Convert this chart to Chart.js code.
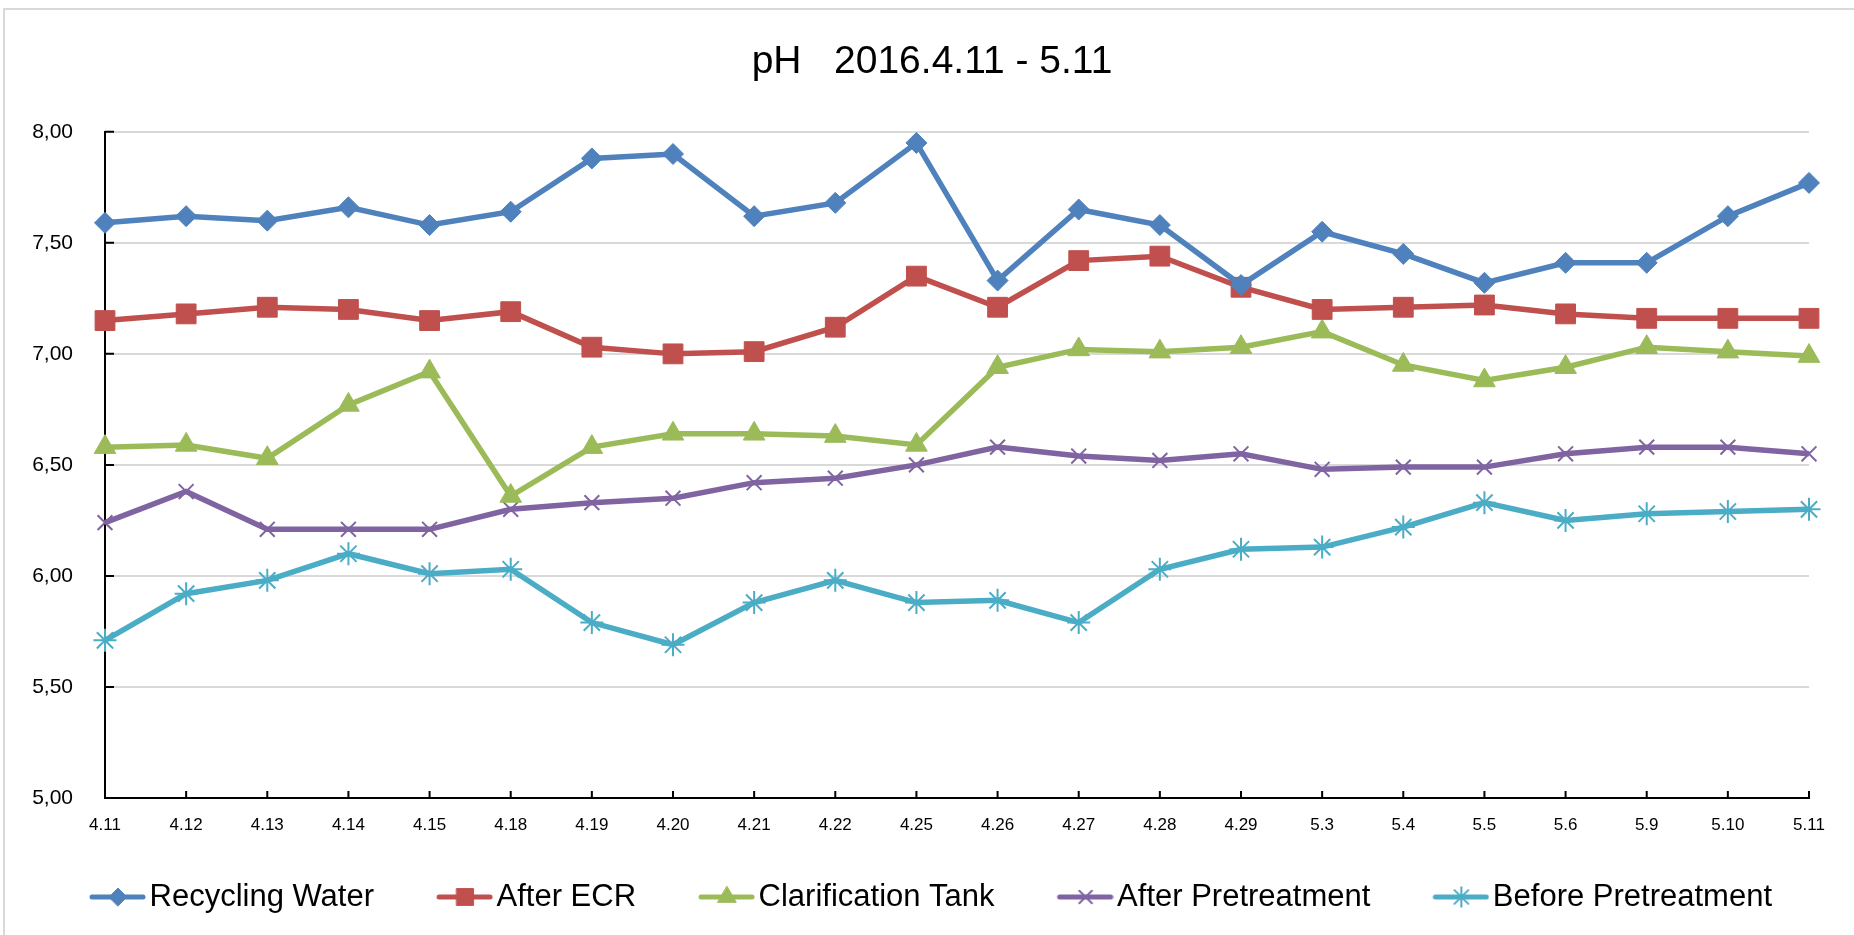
<!DOCTYPE html>
<html>
<head>
<meta charset="utf-8">
<script src="https://cdn.jsdelivr.net/npm/chart.js@4.4.0/dist/chart.umd.min.js"></script>
<style>
    html, body { margin: 0; padding: 0; background: #fff; }
    #wrap { position: relative; width: 1854px; height: 935px; overflow: hidden; }
    #frame { position: absolute; left: 3px; top: 8px; width: 1900px; height: 1000px; border: 2px solid #d9d9d9; box-sizing: border-box; }
    #chart { position: absolute; left: 0; top: 0; }
</style>
</head>
<body>
<div id="wrap">
    <div id="frame"></div>
    <canvas id="chart" width="1854" height="935"></canvas>
</div>
<script>
const dates = ["4.11", "4.12", "4.13", "4.14", "4.15", "4.18", "4.19", "4.20", "4.21", "4.22", "4.25",
    "4.26", "4.27", "4.28", "4.29", "5.3", "5.4", "5.5", "5.6", "5.9", "5.10", "5.11"];

const recyclingWater = [7.59, 7.62, 7.60, 7.66, 7.58, 7.64, 7.88, 7.90, 7.62, 7.68, 7.95,
    7.33, 7.65, 7.58, 7.31, 7.55, 7.45, 7.32, 7.41, 7.41, 7.62, 7.77];
const afterEcr = [7.15, 7.18, 7.21, 7.20, 7.15, 7.19, 7.03, 7.00, 7.01, 7.12, 7.35,
    7.21, 7.42, 7.44, 7.30, 7.20, 7.21, 7.22, 7.18, 7.16, 7.16, 7.16];
const clarificationTank = [6.58, 6.59, 6.53, 6.77, 6.92, 6.36, 6.58, 6.64, 6.64, 6.63, 6.59,
    6.94, 7.02, 7.01, 7.03, 7.10, 6.95, 6.88, 6.94, 7.03, 7.01, 6.99];
const afterPretreatment = [6.24, 6.38, 6.21, 6.21, 6.21, 6.30, 6.33, 6.35, 6.42, 6.44, 6.50,
    6.58, 6.54, 6.52, 6.55, 6.48, 6.49, 6.49, 6.55, 6.58, 6.58, 6.55];
const beforePretreatment = [5.71, 5.92, 5.98, 6.10, 6.01, 6.03, 5.79, 5.69, 5.88, 5.98, 5.88,
    5.89, 5.79, 6.03, 6.12, 6.13, 6.22, 6.33, 6.25, 6.28, 6.29, 6.30];

const seriesNames = ["Recycling Water", "After ECR", "Clarification Tank", "After Pretreatment", "Before Pretreatment"];
const yMin = 5, yMax = 8, yStep = 0.5;

const FONT = '"Liberation Sans", Arial, sans-serif';

const styles = [
    { color: "#4F81BD", point: "rectRot", radius: 10.5, bw: 1 },
    { color: "#C0504D", point: "rect", radius: 14, bw: 1 },
    { color: "#9BBB59", point: "triangle", radius: 12.5, bw: 1 },
    { color: "#8064A2", point: "crossRot", radius: 10.5, bw: 2 },
    { color: "#4BACC6", point: "star", radius: 11.5, bw: 2 }
];
const seriesData = [recyclingWater, afterEcr, clarificationTank, afterPretreatment, beforePretreatment];

// legend icons: line with marker, drawn a bit wider than the box so the gap to the text stays small
const BOX_W = 97;
const ICON_W = BOX_W + 24;
function legendIcon(st) {
    const c = document.createElement("canvas");
    c.width = ICON_W;
    c.height = 30;
    const ctx = c.getContext("2d");
    ctx.strokeStyle = st.color;
    ctx.fillStyle = st.color;
    ctx.lineWidth = 5;
    ctx.lineCap = "round";
    ctx.beginPath();
    ctx.moveTo(ICON_W - 54, 15);
    ctx.lineTo(ICON_W - 3, 15);
    ctx.stroke();
    ctx.lineWidth = st.bw;
    Chart.helpers.drawPoint(ctx, { pointStyle: st.point, radius: st.radius * 0.85, borderWidth: st.bw, rotation: 0 }, ICON_W - 28, 15);
    return c;
}

const insideTicks = {
    id: "insideTicks",
    beforeDatasetsDraw(chart) {
        const { ctx, chartArea, scales: { x, y } } = chart;
        ctx.save();
        ctx.strokeStyle = "#000";
        ctx.lineWidth = 2;
        ctx.beginPath();
        y.ticks.forEach((t, i) => {
            const py = y.getPixelForTick(i);
            ctx.moveTo(chartArea.left, py);
            ctx.lineTo(chartArea.left + 9, py);
        });
        x.ticks.forEach((t, i) => {
            const px = x.getPixelForTick(i);
            ctx.moveTo(px, chartArea.bottom);
            ctx.lineTo(px, chartArea.bottom - 7);
        });
        ctx.stroke();
        ctx.restore();
    }
};

// the title sits a little right of the plot centre in the original
const titleShift = {
    id: "titleShift",
    afterLayout(chart) {
        if (chart.titleBlock) chart.titleBlock.left += 55;
    }
};

const icons = styles.map(legendIcon);

new Chart(document.getElementById("chart"), {
    type: "line",
    data: {
        labels: dates,
        datasets: seriesNames.map((name, i) => ({
            label: name,
            data: seriesData[i],
            borderColor: styles[i].color,
            backgroundColor: styles[i].color,
            borderWidth: 5.5,
            tension: 0,
            fill: false,
            pointStyle: styles[i].point,
            pointRadius: styles[i].radius,
            pointBorderWidth: styles[i].bw,
            pointBackgroundColor: styles[i].color,
            pointBorderColor: styles[i].color
        }))
    },
    options: {
        responsive: false,
        animation: false,
        layout: { padding: { left: 0, right: 45, top: 0, bottom: 12.5 } },
        plugins: {
            title: {
                display: true,
                text: "pH   2016.4.11 - 5.11",
                color: "#000",
                font: { family: FONT, size: 39, weight: "normal" },
                padding: { top: 39, bottom: 46 }
            },
            legend: {
                position: "bottom",
                labels: {
                    color: "#000",
                    font: { family: FONT, size: 31 },
                    usePointStyle: true,
                    pointStyleWidth: BOX_W,
                    padding: 10,
                    generateLabels: chart => seriesNames.map((name, i) => ({
                        text: name,
                        pointStyle: icons[i],
                        fillStyle: styles[i].color,
                        strokeStyle: styles[i].color,
                        lineWidth: 0,
                        datasetIndex: i,
                        hidden: false
                    }))
                }
            },
            tooltip: { enabled: false }
        },
        scales: {
            x: {
                offset: false,
                grid: { display: false, drawTicks: false },
                border: { display: true, color: "#000", width: 2 },
                ticks: { color: "#000", font: { family: FONT, size: 17 }, padding: 17, maxRotation: 0, autoSkip: false },
                afterFit: scale => { scale.height = 73.5; }
            },
            y: {
                min: yMin,
                max: yMax,
                grid: { color: "#d9d9d9", lineWidth: 2, drawTicks: false },
                border: { display: true, color: "#000", width: 2 },
                ticks: {
                    stepSize: yStep,
                    color: "#000",
                    font: { family: FONT, size: 21 },
                    padding: 32,
                    callback: v => v.toFixed(2).replace(".", ",")
                },
                afterFit: scale => { scale.width = 105; }
            }
        }
    },
    plugins: [insideTicks, titleShift]
});
</script>
</body>
</html>
